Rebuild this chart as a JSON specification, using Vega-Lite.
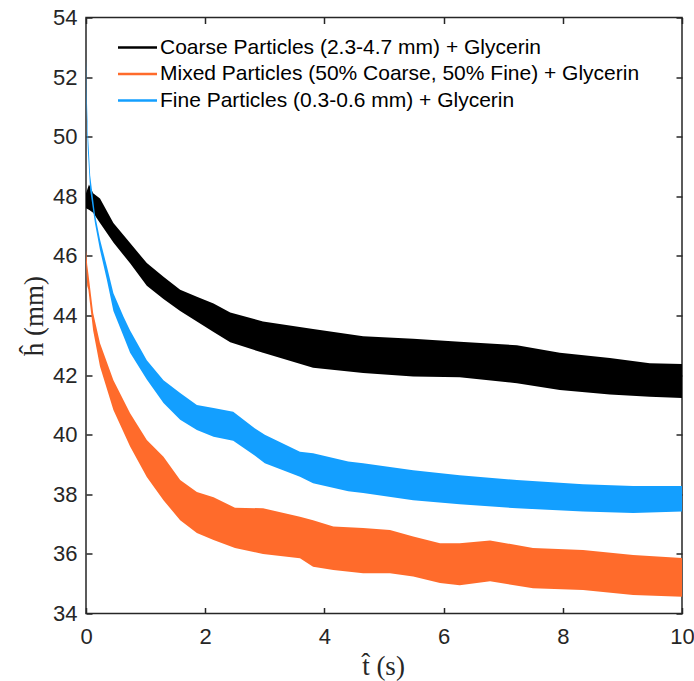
{
  "$schema": "https://vega.github.io/schema/vega-lite/v6.json",
  "autosize": {"type": "none"},
  "padding": {"left": 86, "top": 17.5, "right": 12, "bottom": 67.5},
  "width": 596,
  "height": 596,
  "background": "white",
  "config": {
    "font": "Liberation Sans",
    "view": {"stroke": "#262626", "strokeWidth": 1.5},
    "axis": {
      "domain": false,
      "ticks": true,
      "tickSize": 6,
      "offset": -6,
      "tickColor": "#262626",
      "tickWidth": 1.5,
      "labelFlush": false,
      "labelColor": "#262626",
      "labelFont": "Liberation Sans",
      "labelFontSize": 22,
      "grid": false,
      "titleFont": "Liberation Serif",
      "titleFontSize": 27,
      "titleFontWeight": "normal",
      "titleColor": "#262626"
    }
  },
  "data": {
    "values": [
      {"series": "Coarse Particles (2.3-4.7 mm) + Glycerin", "t": 0.0, "lo": 47.6, "hi": 48.1},
      {"series": "Coarse Particles (2.3-4.7 mm) + Glycerin", "t": 0.05, "lo": 47.55, "hi": 48.4},
      {"series": "Coarse Particles (2.3-4.7 mm) + Glycerin", "t": 0.12, "lo": 47.45, "hi": 48.1},
      {"series": "Coarse Particles (2.3-4.7 mm) + Glycerin", "t": 0.235, "lo": 47.1, "hi": 47.93},
      {"series": "Coarse Particles (2.3-4.7 mm) + Glycerin", "t": 0.46, "lo": 46.45, "hi": 47.1},
      {"series": "Coarse Particles (2.3-4.7 mm) + Glycerin", "t": 0.74, "lo": 45.75, "hi": 46.43},
      {"series": "Coarse Particles (2.3-4.7 mm) + Glycerin", "t": 1.02, "lo": 45.0, "hi": 45.76},
      {"series": "Coarse Particles (2.3-4.7 mm) + Glycerin", "t": 1.3, "lo": 44.55, "hi": 45.3},
      {"series": "Coarse Particles (2.3-4.7 mm) + Glycerin", "t": 1.58, "lo": 44.15, "hi": 44.86},
      {"series": "Coarse Particles (2.3-4.7 mm) + Glycerin", "t": 1.86, "lo": 43.8, "hi": 44.63},
      {"series": "Coarse Particles (2.3-4.7 mm) + Glycerin", "t": 2.14, "lo": 43.45, "hi": 44.4},
      {"series": "Coarse Particles (2.3-4.7 mm) + Glycerin", "t": 2.42, "lo": 43.1, "hi": 44.1},
      {"series": "Coarse Particles (2.3-4.7 mm) + Glycerin", "t": 2.97, "lo": 42.75, "hi": 43.8},
      {"series": "Coarse Particles (2.3-4.7 mm) + Glycerin", "t": 3.81, "lo": 42.25, "hi": 43.55},
      {"series": "Coarse Particles (2.3-4.7 mm) + Glycerin", "t": 4.65, "lo": 42.07, "hi": 43.3},
      {"series": "Coarse Particles (2.3-4.7 mm) + Glycerin", "t": 5.49, "lo": 41.95, "hi": 43.22},
      {"series": "Coarse Particles (2.3-4.7 mm) + Glycerin", "t": 6.27, "lo": 41.93, "hi": 43.12},
      {"series": "Coarse Particles (2.3-4.7 mm) + Glycerin", "t": 7.23, "lo": 41.73, "hi": 43.0},
      {"series": "Coarse Particles (2.3-4.7 mm) + Glycerin", "t": 7.95, "lo": 41.5, "hi": 42.75},
      {"series": "Coarse Particles (2.3-4.7 mm) + Glycerin", "t": 8.79, "lo": 41.35, "hi": 42.57},
      {"series": "Coarse Particles (2.3-4.7 mm) + Glycerin", "t": 9.46, "lo": 41.27, "hi": 42.4},
      {"series": "Coarse Particles (2.3-4.7 mm) + Glycerin", "t": 10.0, "lo": 41.23, "hi": 42.37},

      {"series": "Mixed Particles (50% Coarse, 50% Fine) + Glycerin", "t": 0.0, "lo": 45.8, "hi": 46.2},
      {"series": "Mixed Particles (50% Coarse, 50% Fine) + Glycerin", "t": 0.02, "lo": 45.0, "hi": 45.7},
      {"series": "Mixed Particles (50% Coarse, 50% Fine) + Glycerin", "t": 0.04, "lo": 44.86, "hi": 45.4},
      {"series": "Mixed Particles (50% Coarse, 50% Fine) + Glycerin", "t": 0.12, "lo": 43.5, "hi": 44.08},
      {"series": "Mixed Particles (50% Coarse, 50% Fine) + Glycerin", "t": 0.235, "lo": 42.29, "hi": 43.07},
      {"series": "Mixed Particles (50% Coarse, 50% Fine) + Glycerin", "t": 0.46, "lo": 40.83, "hi": 41.83},
      {"series": "Mixed Particles (50% Coarse, 50% Fine) + Glycerin", "t": 0.74, "lo": 39.6, "hi": 40.72},
      {"series": "Mixed Particles (50% Coarse, 50% Fine) + Glycerin", "t": 1.02, "lo": 38.58, "hi": 39.82},
      {"series": "Mixed Particles (50% Coarse, 50% Fine) + Glycerin", "t": 1.3, "lo": 37.8, "hi": 39.26},
      {"series": "Mixed Particles (50% Coarse, 50% Fine) + Glycerin", "t": 1.58, "lo": 37.13, "hi": 38.48},
      {"series": "Mixed Particles (50% Coarse, 50% Fine) + Glycerin", "t": 1.86, "lo": 36.7, "hi": 38.08},
      {"series": "Mixed Particles (50% Coarse, 50% Fine) + Glycerin", "t": 2.14, "lo": 36.47, "hi": 37.9},
      {"series": "Mixed Particles (50% Coarse, 50% Fine) + Glycerin", "t": 2.5, "lo": 36.2, "hi": 37.55},
      {"series": "Mixed Particles (50% Coarse, 50% Fine) + Glycerin", "t": 2.97, "lo": 36.0, "hi": 37.53},
      {"series": "Mixed Particles (50% Coarse, 50% Fine) + Glycerin", "t": 3.59, "lo": 35.85, "hi": 37.25},
      {"series": "Mixed Particles (50% Coarse, 50% Fine) + Glycerin", "t": 3.81, "lo": 35.57, "hi": 37.13},
      {"series": "Mixed Particles (50% Coarse, 50% Fine) + Glycerin", "t": 4.15, "lo": 35.46, "hi": 36.92},
      {"series": "Mixed Particles (50% Coarse, 50% Fine) + Glycerin", "t": 4.65, "lo": 35.35, "hi": 36.87},
      {"series": "Mixed Particles (50% Coarse, 50% Fine) + Glycerin", "t": 5.1, "lo": 35.35, "hi": 36.8},
      {"series": "Mixed Particles (50% Coarse, 50% Fine) + Glycerin", "t": 5.49, "lo": 35.24, "hi": 36.58},
      {"series": "Mixed Particles (50% Coarse, 50% Fine) + Glycerin", "t": 5.94, "lo": 35.02, "hi": 36.36},
      {"series": "Mixed Particles (50% Coarse, 50% Fine) + Glycerin", "t": 6.27, "lo": 34.95, "hi": 36.36},
      {"series": "Mixed Particles (50% Coarse, 50% Fine) + Glycerin", "t": 6.78, "lo": 35.08, "hi": 36.45},
      {"series": "Mixed Particles (50% Coarse, 50% Fine) + Glycerin", "t": 7.5, "lo": 34.85, "hi": 36.2},
      {"series": "Mixed Particles (50% Coarse, 50% Fine) + Glycerin", "t": 8.34, "lo": 34.79, "hi": 36.13},
      {"series": "Mixed Particles (50% Coarse, 50% Fine) + Glycerin", "t": 9.18, "lo": 34.62, "hi": 35.96},
      {"series": "Mixed Particles (50% Coarse, 50% Fine) + Glycerin", "t": 10.0, "lo": 34.56, "hi": 35.86},

      {"series": "Fine Particles (0.3-0.6 mm) + Glycerin", "t": 0.0, "lo": 52.3, "hi": 52.6},
      {"series": "Fine Particles (0.3-0.6 mm) + Glycerin", "t": 0.01, "lo": 51.0, "hi": 51.6},
      {"series": "Fine Particles (0.3-0.6 mm) + Glycerin", "t": 0.03, "lo": 49.6, "hi": 50.2},
      {"series": "Fine Particles (0.3-0.6 mm) + Glycerin", "t": 0.07, "lo": 48.2, "hi": 48.7},
      {"series": "Fine Particles (0.3-0.6 mm) + Glycerin", "t": 0.15, "lo": 47.1, "hi": 47.4},
      {"series": "Fine Particles (0.3-0.6 mm) + Glycerin", "t": 0.235, "lo": 46.2, "hi": 46.55},
      {"series": "Fine Particles (0.3-0.6 mm) + Glycerin", "t": 0.35, "lo": 45.2, "hi": 45.65},
      {"series": "Fine Particles (0.3-0.6 mm) + Glycerin", "t": 0.46, "lo": 44.15, "hi": 44.75},
      {"series": "Fine Particles (0.3-0.6 mm) + Glycerin", "t": 0.63, "lo": 43.3, "hi": 43.96},
      {"series": "Fine Particles (0.3-0.6 mm) + Glycerin", "t": 0.74, "lo": 42.75, "hi": 43.5},
      {"series": "Fine Particles (0.3-0.6 mm) + Glycerin", "t": 1.02, "lo": 41.85, "hi": 42.5},
      {"series": "Fine Particles (0.3-0.6 mm) + Glycerin", "t": 1.3, "lo": 41.06, "hi": 41.83},
      {"series": "Fine Particles (0.3-0.6 mm) + Glycerin", "t": 1.58, "lo": 40.5, "hi": 41.4},
      {"series": "Fine Particles (0.3-0.6 mm) + Glycerin", "t": 1.86, "lo": 40.16, "hi": 41.0},
      {"series": "Fine Particles (0.3-0.6 mm) + Glycerin", "t": 2.14, "lo": 39.93, "hi": 40.9},
      {"series": "Fine Particles (0.3-0.6 mm) + Glycerin", "t": 2.47, "lo": 39.8, "hi": 40.77},
      {"series": "Fine Particles (0.3-0.6 mm) + Glycerin", "t": 2.83, "lo": 39.3, "hi": 40.22},
      {"series": "Fine Particles (0.3-0.6 mm) + Glycerin", "t": 3.0, "lo": 39.04, "hi": 40.0},
      {"series": "Fine Particles (0.3-0.6 mm) + Glycerin", "t": 3.59, "lo": 38.59, "hi": 39.43},
      {"series": "Fine Particles (0.3-0.6 mm) + Glycerin", "t": 3.81, "lo": 38.37, "hi": 39.38},
      {"series": "Fine Particles (0.3-0.6 mm) + Glycerin", "t": 4.4, "lo": 38.1, "hi": 39.1},
      {"series": "Fine Particles (0.3-0.6 mm) + Glycerin", "t": 4.65, "lo": 38.04, "hi": 39.04},
      {"series": "Fine Particles (0.3-0.6 mm) + Glycerin", "t": 5.49, "lo": 37.8, "hi": 38.81},
      {"series": "Fine Particles (0.3-0.6 mm) + Glycerin", "t": 6.27, "lo": 37.67, "hi": 38.64},
      {"series": "Fine Particles (0.3-0.6 mm) + Glycerin", "t": 7.23, "lo": 37.53, "hi": 38.48},
      {"series": "Fine Particles (0.3-0.6 mm) + Glycerin", "t": 8.34, "lo": 37.42, "hi": 38.34},
      {"series": "Fine Particles (0.3-0.6 mm) + Glycerin", "t": 9.18, "lo": 37.37, "hi": 38.28},
      {"series": "Fine Particles (0.3-0.6 mm) + Glycerin", "t": 10.0, "lo": 37.42, "hi": 38.28}
    ]
  },
  "layer": [
    {
      "mark": {"type": "area", "opacity": 1, "strokeWidth": 0},
      "encoding": {
        "x": {
          "field": "t", "type": "quantitative",
          "scale": {"domain": [0, 10], "nice": false, "zero": false},
          "axis": {
            "orient": "bottom",
            "values": [0, 2, 4, 6, 8, 10],
            "offset": -6, "tickSize": 6, "domain": false,
            "labelPadding": 13,
            "title": "t̂ (s)",
            "titleX": 297, "titleY": 59,
            "titleAlign": "center", "titleBaseline": "middle"
          }
        },
        "y": {
          "field": "lo", "type": "quantitative",
          "scale": {"domain": [34, 54], "nice": false, "zero": false},
          "axis": {
            "orient": "left",
            "values": [34, 36, 38, 40, 42, 44, 46, 48, 50, 52, 54],
            "offset": -6, "tickSize": 6, "domain": false,
            "labelPadding": 9,
            "title": "ĥ (mm)",
            "titleX": -58, "titleY": 298,
            "titleAngle": -90,
            "titleAlign": "center", "titleBaseline": "middle"
          }
        },
        "y2": {"field": "hi"},
        "color": {
          "field": "series", "type": "nominal",
          "sort": null,
          "scale": {
            "domain": [
              "Coarse Particles (2.3-4.7 mm) + Glycerin",
              "Mixed Particles (50% Coarse, 50% Fine) + Glycerin",
              "Fine Particles (0.3-0.6 mm) + Glycerin"
            ],
            "range": ["#000000", "#FF6B2B", "#139FFF"]
          },
          "legend": {
            "title": null,
            "orient": "none",
            "legendX": 32,
            "legendY": 19,
            "padding": 0,
            "symbolType": "M-1,-0.06H1V0.06H-1Z",
            "symbolSize": 1521,
            "symbolStrokeWidth": 0,
            "symbolOpacity": 1,
            "clipHeight": 22,
            "rowPadding": 4.5,
            "labelOffset": 3,
            "labelFont": "Liberation Sans",
            "labelFontSize": 21,
            "labelColor": "#000000",
            "labelLimit": 700
          }
        }
      }
    },
    {
      "mark": {"type": "point", "opacity": 0},
      "encoding": {
        "x": {
          "field": "t", "type": "quantitative",
          "axis": {"orient": "top", "values": [0, 2, 4, 6, 8, 10], "labels": false, "title": null, "domain": false, "offset": -6, "tickSize": 6}
        },
        "y": {
          "field": "lo", "type": "quantitative",
          "axis": {"orient": "right", "values": [34, 36, 38, 40, 42, 44, 46, 48, 50, 52, 54], "labels": false, "title": null, "domain": false, "offset": -6, "tickSize": 6}
        }
      }
    }
  ],
  "resolve": {"axis": {"x": "independent", "y": "independent"}}
}
